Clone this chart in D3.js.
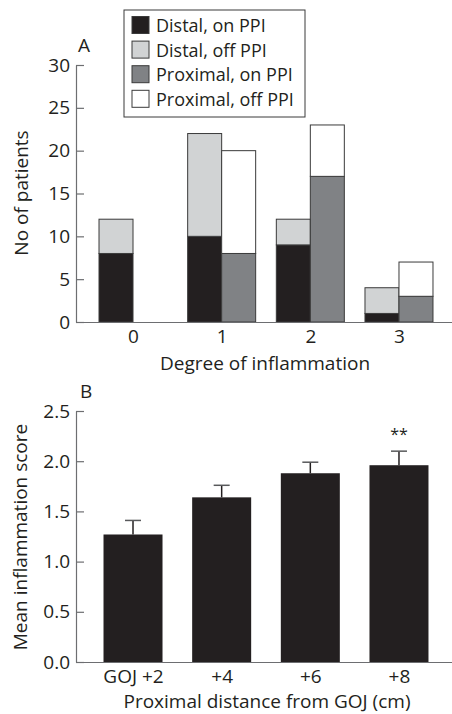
<!DOCTYPE html>
<html>
<head>
<meta charset="utf-8">
<title>Inflammation</title>
<script src="https://d3js.org/d3.v7.min.js"></script>
<style>
  body { margin: 0; background: #fff; }
  svg text { font-family: "Open Sans", sans-serif; fill: #231f20; }
</style>
</head>
<body>
<div id="chart"></div>
<script>
// panel A data
var degrees = ["0", "1", "2", "3"];
var distalOn = [8, 10, 9, 1];
var distalOff = [4, 12, 3, 3];
var proximalOn = [0, 8, 17, 3];
var proximalOff = [0, 12, 6, 4];
var legendLabels = ["Distal, on PPI", "Distal, off PPI", "Proximal, on PPI", "Proximal, off PPI"];

// panel B data
var distances = ["GOJ +2", "+4", "+6", "+8"];
var meanScore = [1.27, 1.64, 1.88, 1.96];
var semScore = [0.14, 0.12, 0.11, 0.14];

var colors = ["#231f20", "#d1d3d4", "#808285", "#ffffff"];
var fontSize = 19;

var svg = d3.select("#chart").append("svg")
  .attr("width", 452).attr("height", 714);

// shared x positions (category index -> center)
var x = d3.scaleLinear().domain([-0.643, 3.598]).range([76, 452]);

// ---------- panel A ----------
var yA = d3.scaleLinear().domain([0, 30]).range([322, 65]);
var barW = 34;

var rows = degrees.map(function (d, i) {
  return { i: i, distalOn: distalOn[i], distalOff: distalOff[i],
           proximalOn: proximalOn[i], proximalOff: proximalOff[i] };
});
var distalStack = d3.stack().keys(["distalOn", "distalOff"])(rows);
var proxStack = d3.stack().keys(["proximalOn", "proximalOff"])(rows);

var gA = svg.append("g");

function drawStack(stack, offset, colIdx) {
  stack.forEach(function (layer, k) {
    gA.append("g").selectAll("rect")
      .data(layer.filter(function (d) { return d[1] > d[0]; }))
      .enter().append("rect")
        .attr("x", function (d) { return x(d.data.i) + offset; })
        .attr("y", function (d) { return yA(d[1]); })
        .attr("width", barW)
        .attr("height", function (d) { return yA(d[0]) - yA(d[1]); })
        .attr("fill", colors[colIdx[k]])
        .attr("stroke", "#3a3a3a")
        .attr("stroke-width", 1);
  });
}
drawStack(distalStack, -barW, [0, 1]);
drawStack(proxStack, 0, [2, 3]);

function styleAxis(g) {
  g.select(".domain").attr("stroke", "#6d6e71").attr("stroke-width", 1.2);
  g.selectAll(".tick line").attr("stroke", "#6d6e71").attr("stroke-width", 1.2);
  g.selectAll("text").attr("font-size", fontSize).attr("font-family", "Open Sans, sans-serif").attr("fill", "#231f20");
}

gA.append("g")
  .attr("transform", "translate(76,0)")
  .call(d3.axisLeft(yA).tickValues(d3.range(0, 31, 5)).tickSizeInner(-8).tickSizeOuter(0).tickPadding(6))
  .call(styleAxis);

gA.append("g")
  .attr("transform", "translate(0,322)")
  .call(d3.axisBottom(x).tickValues([0, 1, 2, 3]).tickFormat(function (d) { return degrees[d]; })
    .tickSize(0).tickPadding(7.5))
  .call(styleAxis);

gA.append("text").attr("x", 78).attr("y", 52).attr("font-size", fontSize).text("A");

gA.append("text")
  .attr("transform", "translate(28,193) rotate(-90)")
  .attr("text-anchor", "middle").attr("font-size", fontSize)
  .text("No of patients");

gA.append("text")
  .attr("x", 265).attr("y", 370)
  .attr("text-anchor", "middle").attr("font-size", fontSize)
  .text("Degree of inflammation");

// legend
var legPitch = 24.6;
var leg = svg.append("g");
leg.append("rect").attr("x", 124).attr("y", 10).attr("width", 181).attr("height", 107)
  .attr("fill", "#fff").attr("stroke", "#3a3a3a").attr("stroke-width", 1);
var item = leg.selectAll("g.item").data(legendLabels).enter().append("g")
  .attr("transform", function (d, i) { return "translate(132," + (16.5 + i * legPitch) + ")"; });
item.append("rect").attr("width", 17).attr("height", 17)
  .attr("fill", function (d, i) { return colors[i]; })
  .attr("stroke", "#3a3a3a").attr("stroke-width", 1);
item.append("text").attr("x", 24).attr("y", 15.5).attr("font-size", 18)
  .text(function (d) { return d; });

// ---------- panel B ----------
var yB = d3.scaleLinear().domain([0, 2.5]).range([662, 411]);
var barWB = 59;
var gB = svg.append("g");

gB.selectAll("rect.bar").data(meanScore).enter().append("rect")
  .attr("class", "bar")
  .attr("x", function (d, i) { return x(i) - barWB / 2; })
  .attr("y", function (d) { return yB(d); })
  .attr("width", barWB)
  .attr("height", function (d) { return yB(0) - yB(d); })
  .attr("fill", "#231f20");

gB.selectAll("line.err").data(meanScore).enter().append("line")
  .attr("class", "err")
  .attr("x1", function (d, i) { return x(i); })
  .attr("x2", function (d, i) { return x(i); })
  .attr("y1", function (d) { return yB(d); })
  .attr("y2", function (d, i) { return yB(d + semScore[i]); })
  .attr("stroke", "#231f20").attr("stroke-width", 1.5);

gB.selectAll("line.cap").data(meanScore).enter().append("line")
  .attr("class", "cap")
  .attr("x1", function (d, i) { return x(i) - 8; })
  .attr("x2", function (d, i) { return x(i) + 8; })
  .attr("y1", function (d, i) { return yB(d + semScore[i]); })
  .attr("y2", function (d, i) { return yB(d + semScore[i]); })
  .attr("stroke", "#58595b").attr("stroke-width", 1.5);

gB.append("g")
  .attr("transform", "translate(76,0)")
  .call(d3.axisLeft(yB).tickValues(d3.range(0, 2.51, 0.5)).tickFormat(d3.format(".1f"))
    .tickSizeInner(-8).tickSizeOuter(0).tickPadding(6))
  .call(styleAxis);

gB.append("g")
  .attr("transform", "translate(0,662)")
  .call(d3.axisBottom(x).tickValues([0, 1, 2, 3]).tickFormat(function (d) { return distances[d]; })
    .tickSize(0).tickPadding(7.5))
  .call(styleAxis);

gB.append("text").attr("x", x(3)).attr("y", 440)
  .attr("text-anchor", "middle").attr("font-size", 16).text("**");

gB.append("text").attr("x", 80).attr("y", 398).attr("font-size", fontSize).text("B");

gB.append("text")
  .attr("transform", "translate(27,537) rotate(-90)")
  .attr("text-anchor", "middle").attr("font-size", fontSize)
  .text("Mean inflammation score");

gB.append("text")
  .attr("x", 267).attr("y", 708)
  .attr("text-anchor", "middle").attr("font-size", fontSize)
  .text("Proximal distance from GOJ (cm)");
</script>
</body>
</html>
